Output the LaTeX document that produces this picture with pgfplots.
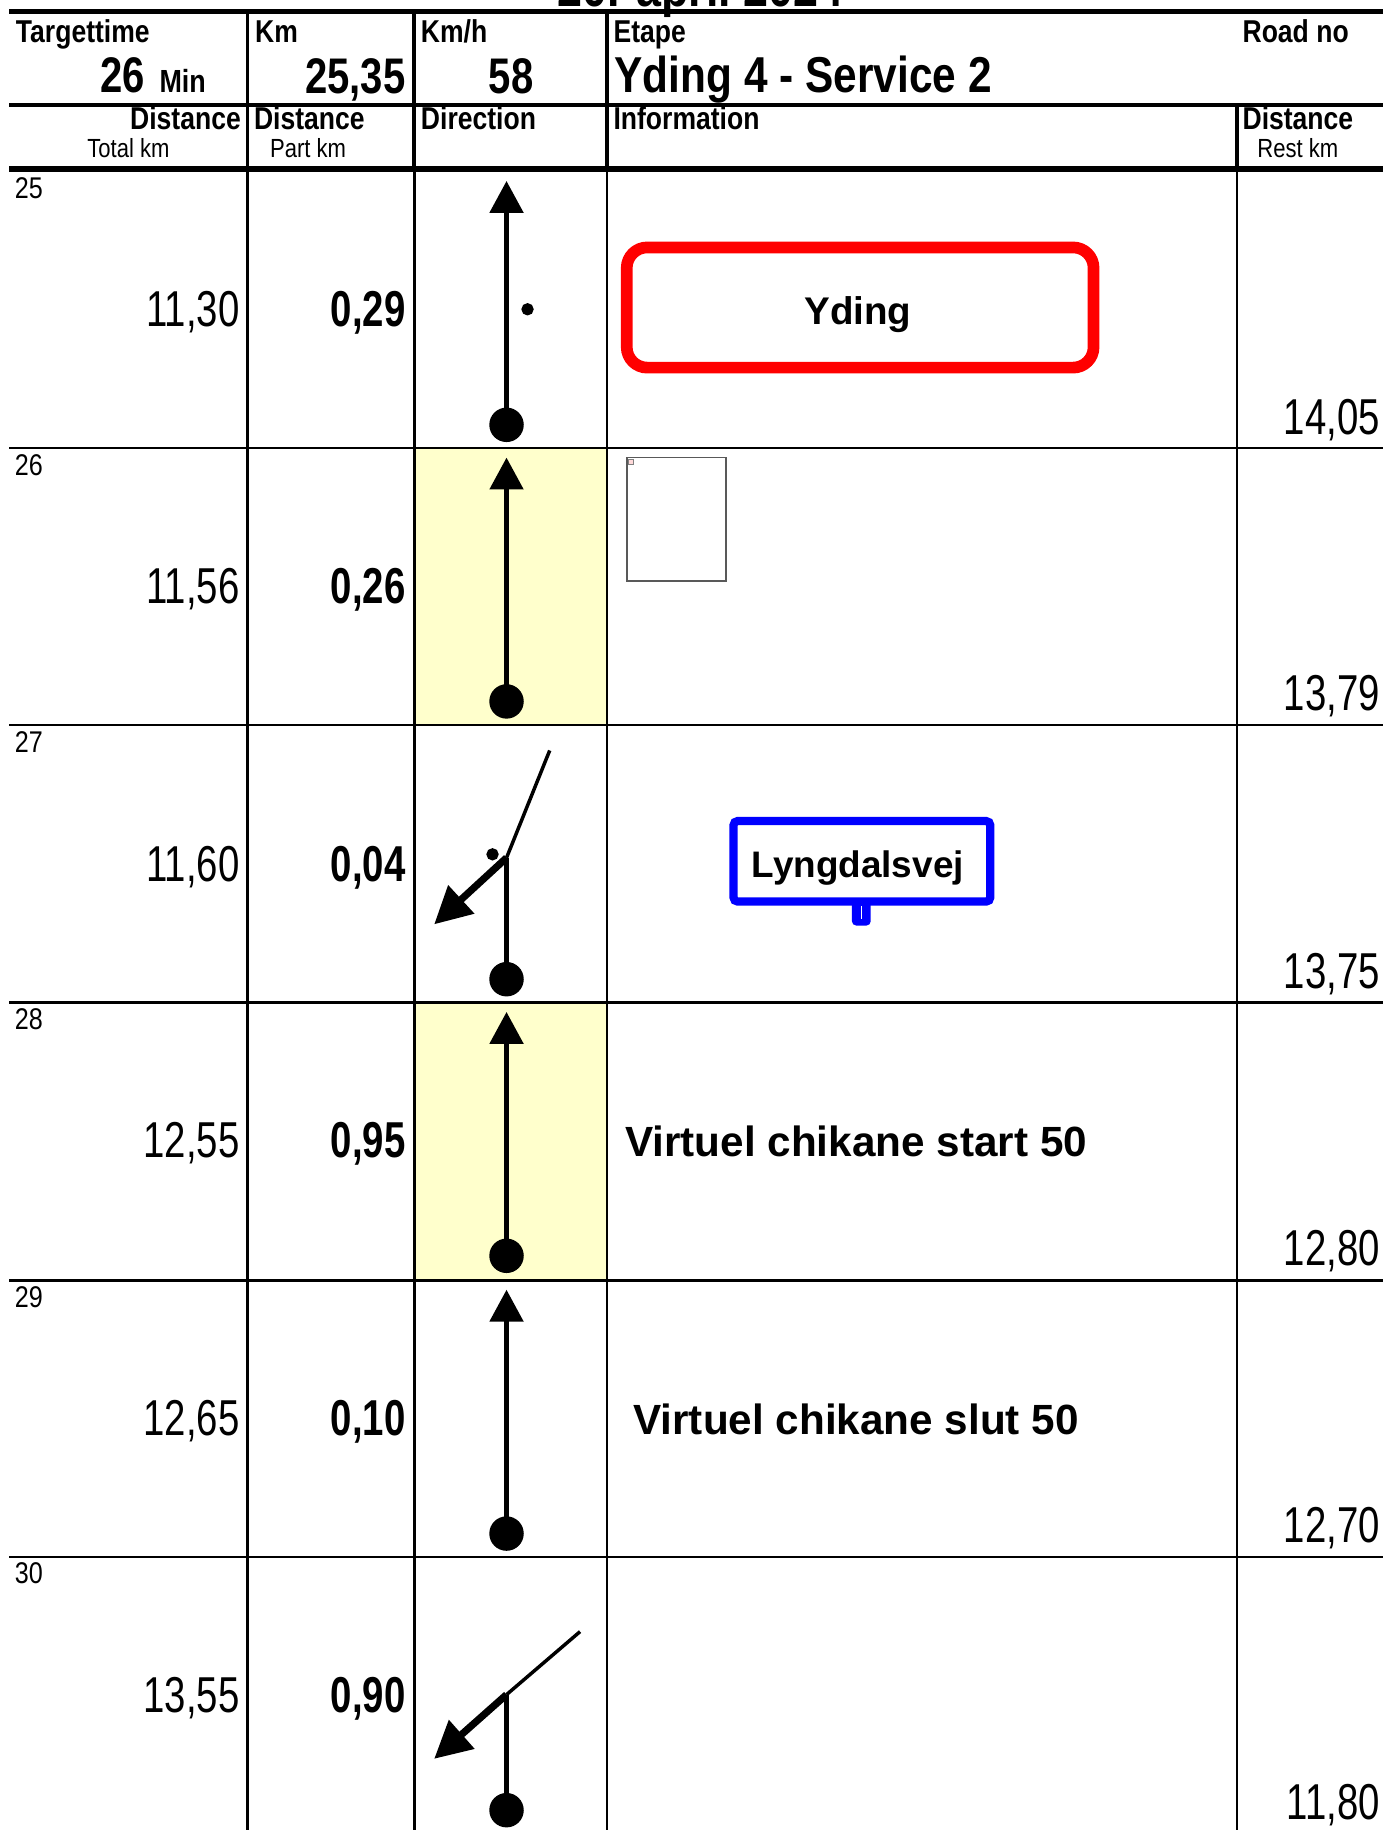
\documentclass[border=0pt]{standalone}
\usepackage{fontspec}
\usepackage{pgfplots}
\pgfplotsset{compat=1.18}
\usepackage{pgfplotstable}
\usetikzlibrary{arrows.meta}
\setmainfont{Liberation Sans}
\newfontfamily\nar[FakeStretch=0.84]{Liberation Sans}
\newfontfamily\nnum[FakeStretch=0.76]{Liberation Sans}
\newfontfamily\nhead[FakeStretch=0.8]{Liberation Sans}
\definecolor{yel}{HTML}{FFFFCC}

\pgfplotstableread{
row top total part rest
25 147 11.30 0.29 14.05
26 384 11.56 0.26 13.79
27 622 11.60 0.04 13.75
28 859 12.55 0.95 12.80
29 1097 12.65 0.10 12.70
30 1334 13.55 0.90 11.80
}\rows

\begin{document}
\begin{tikzpicture}
\begin{axis}[
  width=11.85cm,height=15.68cm,scale only axis,
  xmin=0,xmax=1185,ymin=0,ymax=1568,y dir=reverse,
  axis lines=none, xtick=\empty, ytick=\empty, clip=true,
  /pgf/number format/fixed,
  /pgf/number format/fixed zerofill,
  /pgf/number format/precision=2,
  /pgf/number format/use comma,
  /pgf/number format/assume math mode=true]

\path (axis cs:0,0) (axis cs:1185,1568);
% yellow cells
\addplot[fill=yel,draw=none,mark=none] coordinates {(355,384)(520,384)(520,621)(355,621)(355,384)};
\addplot[fill=yel,draw=none,mark=none] coordinates {(355,859)(520,859)(520,1097)(355,1097)(355,859)};

% title (cut off at the top edge, as in the reference)
\node[overlay,anchor=base,inner sep=0pt,font=\nar\bfseries\fontsize{13}{15}\selectfont] at (axis cs:600,6) {20. april 2024};

% header lines
\draw[line width=1.15pt] (axis cs:8,10) -- (axis cs:1185,10);
\draw[line width=1.15pt] (axis cs:8,90) -- (axis cs:1185,90);
\draw[line width=1.5pt] (axis cs:8,145) -- (axis cs:1185,145);
\draw[line width=0.9pt] (axis cs:212,10) -- (axis cs:212,147);
\draw[line width=0.9pt] (axis cs:355,10) -- (axis cs:355,147);
\draw[line width=0.9pt] (axis cs:520,10) -- (axis cs:520,147);
\draw[line width=0.65pt] (axis cs:212,147) -- (axis cs:212,1568);
\draw[line width=0.65pt] (axis cs:355,147) -- (axis cs:355,1568);
\draw[line width=0.65pt] (axis cs:520,147) -- (axis cs:520,1568);
\draw[line width=0.9pt] (axis cs:1060,90) -- (axis cs:1060,147);
\draw[line width=0.65pt] (axis cs:1060,147) -- (axis cs:1060,1568);
\draw[line width=0.6pt] (axis cs:8,384) -- (axis cs:1185,384);
\draw[line width=0.6pt] (axis cs:8,621) -- (axis cs:1185,621);
\draw[line width=0.6pt] (axis cs:8,859) -- (axis cs:1185,859);
\draw[line width=0.6pt] (axis cs:8,1097) -- (axis cs:1185,1097);
\draw[line width=0.6pt] (axis cs:8,1334) -- (axis cs:1185,1334);

% header text
\tikzset{hl/.style={anchor=base west,inner sep=0pt,font=\nar\bfseries\fontsize{7.7}{9}\selectfont}}
\node[hl] at (axis cs:13,36) {Targettime};
\node[hl] at (axis cs:218,36) {Km};
\node[hl] at (axis cs:360,36) {Km/h};
\node[hl] at (axis cs:525,36) {Etape};
\node[hl] at (axis cs:1064,36) {Road no};
\node[hl,anchor=base east] at (axis cs:207,111) {Distance};
\node[hl] at (axis cs:217,111) {Distance};
\node[hl] at (axis cs:360,111) {Direction};
\node[hl] at (axis cs:525,111) {Information};
\node[hl] at (axis cs:1064,111) {Distance};
\tikzset{sl/.style={anchor=base,inner sep=0pt,font=\nar\fontsize{6.4}{8}\selectfont}}
\node[sl] at (axis cs:110,135) {Total km};
\node[sl] at (axis cs:264,135) {Part km};
\node[sl] at (axis cs:1112,135) {Rest km};
\tikzset{bv/.style={inner sep=0pt,font=\nhead\bfseries\fontsize{12.2}{14}\selectfont}}
\node[bv,anchor=base west] at (axis cs:85,79) {26};
\node[anchor=base west,inner sep=0pt,font=\nar\bfseries\fontsize{7.8}{9}\selectfont] at (axis cs:136,79) {Min};
\node[bv,anchor=base east] at (axis cs:348,80) {25,35};
\node[bv,anchor=base] at (axis cs:438,80) {58};
\node[anchor=base west,inner sep=0pt,font=\nar\bfseries\fontsize{12.3}{15}\selectfont] at (axis cs:526,79) {Yding 4 - Service 2};

% row numbers
\addplot[draw=none,mark=none,nodes near coords,point meta=explicit symbolic,
  every node near coord/.append style={anchor=base west,inner sep=0pt,font=\nar\fontsize{7.3}{9}\selectfont}]
  table[x expr=12,y expr=\thisrow{top}+23,meta=row]{\rows};
% total km
\addplot[draw=none,mark=none,nodes near coords,point meta=explicit,
  every node near coord/.append style={anchor=base east,inner sep=0pt,font=\nnum\fontsize{12.3}{14}\selectfont}]
  table[x expr=206,y expr=\thisrow{top}+133,meta=total]{\rows};
% part km
\addplot[draw=none,mark=none,nodes near coords,point meta=explicit,
  every node near coord/.append style={anchor=base east,inner sep=0pt,font=\nnum\bfseries\fontsize{12.3}{14}\selectfont}]
  table[x expr=348,y expr=\thisrow{top}+133,meta=part]{\rows};
% rest km
\addplot[draw=none,mark=none,nodes near coords,point meta=explicit,
  every node near coord/.append style={anchor=base east,inner sep=0pt,font=\nnum\fontsize{12.3}{14}\selectfont}]
  table[x expr=1183,y expr=\thisrow{top}+225,meta=rest]{\rows};

% direction arrows
\tikzset{stem/.style={black,line width=1.4pt,mark=none},
  up/.style={stem,-{Triangle[width=8pt,length=7.8pt]}},
  turn/.style={black,line width=1.75pt,mark=none,-{Triangle[width=9pt,length=9pt]}},
  thin/.style={black,line width=0.85pt,mark=none},
  dot/.style={only marks,mark=*,mark size=4pt,black},
  sdot/.style={only marks,mark=*,mark size=1.3pt,black}}
\addplot[up] coordinates {(434,364)(434,155)};
\addplot[up] coordinates {(434,601)(434,392)};
\addplot[up] coordinates {(434,1076)(434,867)};
\addplot[up] coordinates {(434,1314)(434,1105)};
\addplot[stem] coordinates {(434,839)(434,735)};
\addplot[thin] coordinates {(434,735)(471,643)};
\addplot[turn] coordinates {(434,735)(372,792)};
\addplot[stem] coordinates {(434,1551)(434,1452)};
\addplot[thin] coordinates {(434,1452)(497,1398)};
\addplot[turn] coordinates {(434,1452)(372,1507)};
\addplot[dot] coordinates {(434,364)(434,601)(434,839)(434,1076)(434,1314)(434,1551)};
\addplot[sdot] coordinates {(452,265)(422,732)};

% information column
\draw[red,line width=2.85pt,rounded corners=5pt] (axis cs:537,212) rectangle (axis cs:937,315);
\node[anchor=base,inner sep=0pt,font=\bfseries\fontsize{9.4}{11}\selectfont] at (axis cs:735,278) {Yding};
\draw[gray!70!black,line width=0.45pt] (axis cs:537,392) rectangle (axis cs:622,498);
\draw[gray,line width=0.2pt,fill=red!15] (axis cs:538.5,393.5) rectangle (axis cs:542.5,397.5);
\fill[blue,rounded corners=1pt] (axis cs:730,770) rectangle (axis cs:746,793);
\draw[white,line width=0.3pt] (axis cs:738,776) -- (axis cs:738,787);
\draw[blue,line width=2pt,rounded corners=1pt,fill=white] (axis cs:628.5,703.5) rectangle (axis cs:848.5,772.5);
\node[anchor=base,inner sep=0pt,font=\bfseries\fontsize{9}{11}\selectfont] at (axis cs:735,752) {Lyngdalsvej};
\node[anchor=base west,inner sep=0pt,font=\bfseries\fontsize{10.3}{12}\selectfont] at (axis cs:535,991) {Virtuel chikane start 50};
\node[anchor=base west,inner sep=0pt,font=\bfseries\fontsize{10.3}{12}\selectfont] at (axis cs:542,1229) {Virtuel chikane slut 50};
\end{axis}
\end{tikzpicture}
\end{document}
